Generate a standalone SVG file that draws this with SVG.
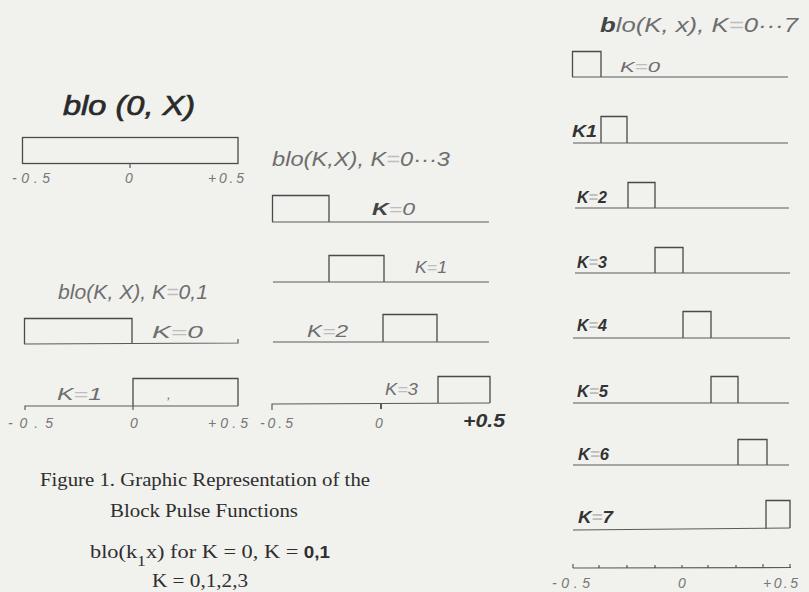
<svg xmlns="http://www.w3.org/2000/svg" width="809" height="592" viewBox="0 0 809 592">
<style>
.bg{fill:#f1f1ee}
.ln{stroke:#5a5a5a;stroke-width:1.2;fill:none}
.bx{stroke:#4a4a4a;stroke-width:1.3;fill:none}
.hw{font-family:"Liberation Sans",Arial,sans-serif;font-style:italic;fill:#6e6e6e}
.hb{font-family:"Liberation Sans",Arial,sans-serif;font-style:italic;font-weight:bold;fill:#333}
.ax{font-family:"Liberation Sans",Arial,sans-serif;font-style:italic;fill:#777;font-size:14px}
.eq{fill:#bdbdbd}
.cap{font-family:"Liberation Serif","Times New Roman",serif;fill:#2e2e2e;font-size:19px}
</style>
<rect class="bg" x="0" y="0" width="809" height="592"/>

<g id="panel1">
<text class="hw" x="63" y="115" font-size="27" textLength="132" lengthAdjust="spacingAndGlyphs" style="fill:#2a2a2a;stroke:#2a2a2a;stroke-width:0.7">blo (0, X)</text>
<rect class="bx" x="22.5" y="137.5" width="215.5" height="26"/>
<line class="ln" x1="130" y1="163" x2="130" y2="168"/>
<text class="ax" x="12" y="183" textLength="38" lengthAdjust="spacing">-0.5</text>
<text class="ax" x="125" y="183">0</text>
<text class="ax" x="208" y="183" textLength="36" lengthAdjust="spacing">+0.5</text>
</g>

<g id="panel2">
<text class="hw" x="58" y="299" font-size="20" textLength="150" lengthAdjust="spacingAndGlyphs">blo(K, X), K<tspan class="eq">=</tspan>0,1</text>
<path class="bx" d="M24.5,344 V318.5 H132 V343"/>
<path class="ln" d="M24,344 L238,343 V339"/>
<text class="hw" x="152" y="338" font-size="17" textLength="51" lengthAdjust="spacingAndGlyphs">K<tspan class="eq">=</tspan>0</text>
<path class="bx" d="M133,406 V378.5 H238 V406"/>
<path class="ln" d="M25,410 V406 L238,406"/>
<line class="ln" x1="133" y1="406" x2="133" y2="410"/>
<text class="hw" x="57" y="400" font-size="17" textLength="45" lengthAdjust="spacingAndGlyphs">K<tspan class="eq">=</tspan>1</text>
<text class="hw" x="167" y="399" font-size="13" fill="#555">,</text>
<text class="ax" x="8" y="428" textLength="45" lengthAdjust="spacing">-0.5</text>
<text class="ax" x="130" y="428">0</text>
<text class="ax" x="208" y="428" textLength="40" lengthAdjust="spacing">+0.5</text>
</g>

<g id="panel3">
<text class="hw" x="272" y="166" font-size="20" textLength="178" lengthAdjust="spacingAndGlyphs">blo(K,X), K<tspan class="eq">=</tspan>0···3</text>
<path class="bx" d="M272.5,222 V195.5 H329 V222"/>
<path class="ln" d="M272,222 L489,222"/>
<text class="hw" x="372" y="215" font-size="16" textLength="43" lengthAdjust="spacingAndGlyphs"><tspan style="font-weight:bold;fill:#444">K</tspan><tspan class="eq">=</tspan>0</text>
<path class="bx" d="M329,282 V255.5 H384 V282"/>
<path class="ln" d="M273,282 L489,282"/>
<text class="hw" x="415" y="273" font-size="16" textLength="32" lengthAdjust="spacingAndGlyphs">K<tspan class="eq">=</tspan>1</text>
<path class="bx" d="M383,342 V314.5 H437 V342"/>
<path class="ln" d="M273,342 L489,342"/>
<text class="hw" x="307" y="337" font-size="17" textLength="41" lengthAdjust="spacingAndGlyphs">K<tspan class="eq">=</tspan>2</text>
<path class="bx" d="M438,403 V376.5 H490 V403"/>
<path class="ln" d="M272,410 V404 L490,403"/>
<line class="ln" x1="381" y1="403" x2="381" y2="409" style="stroke-width:2"/>
<text class="hw" x="385" y="395" font-size="16" textLength="33" lengthAdjust="spacingAndGlyphs">K<tspan class="eq">=</tspan>3</text>
<text class="ax" x="260" y="428" textLength="33" lengthAdjust="spacing">-0.5</text>
<text class="ax" x="375" y="428">0</text>
<text class="hb" x="463" y="427" font-size="18" textLength="42" lengthAdjust="spacingAndGlyphs">+0.5</text>
</g>

<g id="panel4">
<text class="hw" x="600" y="32" font-size="20" textLength="198" lengthAdjust="spacingAndGlyphs"><tspan style="font-weight:bold;fill:#444">b</tspan>lo(K, x), K<tspan class="eq">=</tspan>0···7</text>
<path class="bx" d="M572.5,77 V51.5 H601 V77"/>
<path class="ln" d="M572,77 L788,77"/>
<text class="hw" x="620" y="72" font-size="14" textLength="40" lengthAdjust="spacingAndGlyphs" fill="#888">K<tspan class="eq">=</tspan>0</text>

<path class="bx" d="M601,143 V116.5 H627 V143"/>
<path class="ln" d="M573,143 L788,143"/>
<text class="hb" x="572" y="137" font-size="16" textLength="25" lengthAdjust="spacingAndGlyphs">K1</text>

<path class="bx" d="M628,208 V182.5 H655 V208"/>
<path class="ln" d="M575,208 L789,208"/>
<text class="hb" x="577" y="203" font-size="16" textLength="30" lengthAdjust="spacingAndGlyphs">K<tspan class="eq">=</tspan>2</text>

<path class="bx" d="M655,273 V247.5 H683 V273"/>
<path class="ln" d="M575,273 L790,273"/>
<text class="hb" x="577" y="268" font-size="16" textLength="30" lengthAdjust="spacingAndGlyphs">K<tspan class="eq">=</tspan>3</text>

<path class="bx" d="M683,338 V311.5 H711 V338"/>
<path class="ln" d="M573,338 L790,338"/>
<text class="hb" x="577" y="331" font-size="16" textLength="30" lengthAdjust="spacingAndGlyphs">K<tspan class="eq">=</tspan>4</text>

<path class="bx" d="M711,403 V376.5 H738 V403"/>
<path class="ln" d="M573,403 L789,403"/>
<text class="hb" x="577" y="397" font-size="16" textLength="31" lengthAdjust="spacingAndGlyphs">K<tspan class="eq">=</tspan>5</text>

<path class="bx" d="M738,465 V439.5 H767 V465"/>
<path class="ln" d="M573,465 L789,465"/>
<text class="hb" x="578" y="460" font-size="16" textLength="31" lengthAdjust="spacingAndGlyphs">K<tspan class="eq">=</tspan>6</text>

<path class="bx" d="M766,529 V500.5 H790 V528"/>
<path class="ln" d="M573,530 L790,528"/>
<text class="hb" x="578" y="523" font-size="17" textLength="35" lengthAdjust="spacingAndGlyphs">K<tspan class="eq">=</tspan>7</text>

<path class="ln" d="M573,568 L791,567.5 M573,564 V568 M599,565 V568 M627,565 V568 M655,565 V568 M682,565 V568 M708,565 V568 M736,565 V568 M763,564 V568 M790,564 V568"/>
<text class="ax" x="552" y="588" textLength="38" lengthAdjust="spacing">-0.5</text>
<text class="ax" x="678" y="588">0</text>
<text class="ax" x="763" y="588" textLength="35" lengthAdjust="spacing">+0.5</text>
</g>

<g id="caption">
<text class="cap" x="40" y="486" font-size="20" textLength="330" lengthAdjust="spacingAndGlyphs">Figure 1.  Graphic Representation of the</text>
<text class="cap" x="110" y="517" font-size="20" textLength="188" lengthAdjust="spacingAndGlyphs">Block Pulse Functions</text>
<text class="cap" x="90" y="558" font-size="20" textLength="240" lengthAdjust="spacingAndGlyphs">blo(k<tspan font-size="15" dy="8">1</tspan><tspan dy="-8">x) for K = 0, K =  </tspan><tspan font-family="Liberation Sans, Arial, sans-serif" font-weight="bold" font-size="16">0,1</tspan></text>
<text class="cap" x="152" y="587" font-size="20" textLength="96" lengthAdjust="spacingAndGlyphs">K = 0,1,2,3</text>
</g>
</svg>
